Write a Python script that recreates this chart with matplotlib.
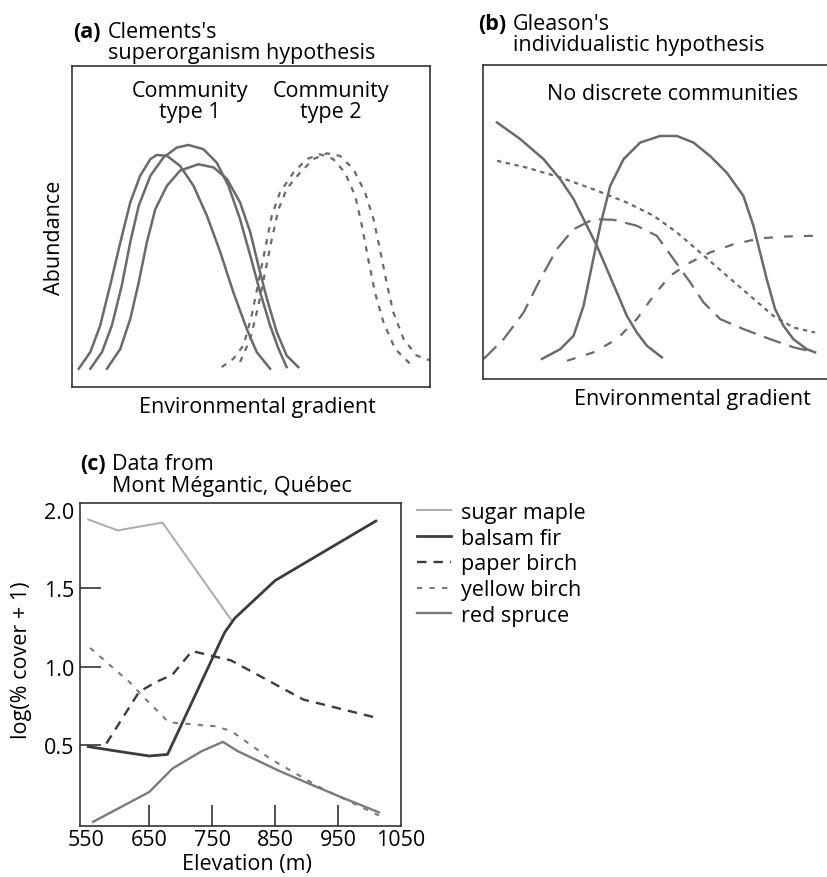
import matplotlib
matplotlib.use("Agg")
import matplotlib.pyplot as plt

plt.rcParams['font.family'] = ['Open Sans', 'DejaVu Sans']

# ---- panel (a): conceptual curves, arbitrary units 0-100
a_solid1_x = [0.5, 3.8, 6.6, 9.4, 12.3, 15.1, 17.9, 20.8, 22.6, 25.5, 29.2, 33.0, 36.8, 40.6, 44.3, 48.1, 50.9, 54.7]
a_solid1_y = [5.7, 10.9, 19.2, 31.6, 45.1, 57.5, 65.8, 71.0, 72.3, 72.0, 68.9, 62.7, 53.4, 42.0, 29.5, 18.1, 10.9, 5.7]
a_solid2_x = [3.8, 7.1, 9.9, 12.7, 15.1, 17.5, 20.8, 24.5, 28.3, 31.6, 35.8, 39.6, 42.9, 46.2, 49.1, 51.9, 54.7, 57.1, 59.4]
a_solid2_y = [5.7, 10.9, 19.2, 31.6, 45.1, 56.5, 65.8, 71.5, 74.6, 75.4, 74.1, 69.9, 62.7, 52.3, 40.9, 29.5, 19.2, 11.9, 6.2]
a_solid3_x = [8.5, 12.3, 15.1, 17.5, 19.8, 22.2, 25.5, 29.2, 34.4, 38.7, 42.5, 46.2, 49.1, 51.4, 53.8, 56.6, 59.4, 62.7]
a_solid3_y = [5.7, 11.9, 21.2, 32.6, 45.1, 55.4, 62.7, 67.4, 69.4, 68.4, 64.8, 57.5, 48.2, 37.8, 27.5, 17.1, 9.8, 6.2]
a_dash1_x = [41.0, 44.3, 47.2, 49.5, 51.4, 53.3, 55.2, 57.5, 61.3, 65.1, 68.9, 72.6, 75.9, 78.8, 80.7, 82.5, 84.4, 86.8, 90.1, 94.3]
a_dash1_y = [6.2, 8.8, 13.0, 22.3, 32.6, 43.0, 53.4, 60.6, 66.8, 71.0, 72.5, 71.0, 66.8, 59.6, 50.3, 39.9, 29.5, 20.2, 11.9, 7.3]
a_dash2_x = [46.2, 49.1, 51.4, 53.3, 55.2, 57.1, 59.4, 63.2, 67.0, 70.8, 74.5, 78.3, 81.6, 84.0, 85.8, 87.7, 89.6, 92.5, 96.2, 100]
a_dash2_y = [7.8, 15.0, 25.4, 35.8, 46.1, 55.4, 61.7, 66.8, 71.0, 72.8, 72.0, 67.9, 60.6, 52.3, 43.0, 32.6, 23.3, 15.0, 9.8, 8.3]

# ---- panel (b): conceptual curves, arbitrary units 0-100
b_solid1_x = [4.2, 11.2, 18.2, 23.2, 27.2, 31.2, 34.2, 37.2, 40.2, 43.2, 46.2, 49.2, 53.7]
b_solid1_y = [81.7, 76.4, 70.0, 63.6, 57.3, 48.8, 42.4, 35.0, 27.6, 20.1, 14.8, 10.6, 6.9]
b_solid2_x = [17.7, 23.2, 27.2, 30.2, 32.7, 35.2, 38.2, 42.2, 47.2, 53.2, 58.2, 63.2, 68.2, 73.2, 78.2, 81.2, 83.2, 85.2, 87.7, 90.2, 93.2, 97.2, 99.7]
b_solid2_y = [6.4, 9.5, 13.8, 23.3, 36.1, 48.8, 61.5, 70.0, 75.3, 77.4, 77.4, 75.3, 71.0, 65.7, 58.3, 48.8, 40.3, 31.8, 22.3, 17.0, 12.7, 9.5, 8.5]
b_short_x = [4.2, 13.2, 23.2, 33.2, 43.2, 51.2, 58.2, 65.2, 73.2, 80.2, 87.2, 93.2, 99.7]
b_short_y = [69.5, 67.3, 64.2, 60.4, 56.2, 52.0, 46.7, 40.3, 32.9, 26.5, 20.1, 16.4, 14.8]
b_long_x = [0.2, 6.2, 12.2, 17.2, 22.2, 27.2, 33.2, 39.2, 46.2, 52.2, 57.2, 62.2, 66.2, 71.2, 78.2, 86.2, 93.2, 99.7]
b_long_y = [6.4, 12.7, 21.2, 31.8, 41.4, 47.7, 50.9, 50.7, 48.8, 45.6, 38.2, 30.8, 24.4, 19.1, 15.9, 12.7, 10.1, 8.5]
b_mid_x = [25.2, 33.2, 40.2, 46.2, 51.2, 56.2, 62.2, 68.2, 75.2, 83.2, 91.2, 99.2]
b_mid_y = [5.8, 8.5, 12.7, 19.1, 26.5, 32.9, 37.1, 40.3, 42.9, 44.8, 45.4, 45.6]

# ---- panel (c): Mont Megantic data
sugar_maple_elev = [553, 600, 671, 780]
sugar_maple = [1.94, 1.87, 1.92, 1.30]
balsam_fir_elev = [553, 600, 650, 679, 700, 750, 770, 786, 850, 1010]
balsam_fir = [0.49, 0.46, 0.43, 0.44, 0.62, 1.05, 1.22, 1.31, 1.55, 1.93]
paper_birch_elev = [582, 634, 660, 687, 718, 780, 895, 1015]
paper_birch = [0.51, 0.84, 0.90, 0.95, 1.10, 1.04, 0.79, 0.67]
yellow_birch_elev = [556, 619, 640, 681, 754, 780, 843, 921, 1015]
yellow_birch = [1.12, 0.90, 0.81, 0.645, 0.62, 0.59, 0.41, 0.23, 0.05]
red_spruce_elev = [561, 650, 687, 733, 767, 791, 859, 947, 1015]
red_spruce = [0.01, 0.20, 0.35, 0.46, 0.52, 0.46, 0.33, 0.18, 0.07]

W, H = 827, 878
fig = plt.figure(figsize=(W / 100, H / 100), dpi=100)

def box(x0, y0, x1, y1):
    return [x0 / W, 1 - y1 / H, (x1 - x0) / W, (y1 - y0) / H]

def label(x, y, s, **kw):
    fig.text(x / W, 1 - y / H, s, fontsize=fs, va='center', **kw)

fs = 15.5
grey = '#6a6a6a'

# panel (a)
ax1 = fig.add_axes(box(72, 67, 430, 388))
for xs, ys in ((a_solid1_x, a_solid1_y), (a_solid2_x, a_solid2_y), (a_solid3_x, a_solid3_y)):
    ax1.plot(xs, ys, color=grey, lw=1.8, solid_joinstyle='round')
ax1.plot(a_dash1_x, a_dash1_y, color=grey, lw=1.6, dashes=(2.5, 3))
ax1.plot(a_dash2_x, a_dash2_y, color=grey, lw=1.6, dashes=(2.5, 3))
ax1.set_xlim(-1.4, 100)
ax1.set_ylim(0, 100)
ax1.set_xticks([])
ax1.set_yticks([])
ax1.text(32, 89, 'Community\ntype 1', ha='center', va='center', fontsize=fs, linespacing=1.0)
ax1.text(72, 89, 'Community\ntype 2', ha='center', va='center', fontsize=fs, linespacing=1.0)
label(55, 238, 'Abundance', ha='center', rotation=90)
label(257, 408, 'Environmental gradient', ha='center')
label(73, 32, '(a)', fontweight='bold')
label(108, 32, "Clements's")
label(108, 53, 'superorganism hypothesis')

# panel (b)
ax2 = fig.add_axes(box(483, 66, 836, 380))
ax2.plot(b_solid1_x, b_solid1_y, color=grey, lw=1.8, solid_joinstyle='round')
ax2.plot(b_solid2_x, b_solid2_y, color=grey, lw=1.8, solid_joinstyle='round')
ax2.plot(b_short_x, b_short_y, color=grey, lw=1.6, dashes=(2, 2))
ax2.plot(b_long_x, b_long_y, color=grey, lw=1.6, dashes=(8, 4))
ax2.plot(b_mid_x, b_mid_y, color=grey, lw=1.6, dashes=(4, 5))
ax2.set_xlim(0, 106)
ax2.set_ylim(0, 100)
ax2.set_xticks([])
ax2.set_yticks([])
ax2.text(57, 91, 'No discrete communities', ha='center', va='center', fontsize=fs)
label(692, 400, 'Environmental gradient', ha='center')
label(478, 25, '(b)', fontweight='bold')
label(513, 25, "Gleason's")
label(513, 45, 'individualistic hypothesis')

# panel (c)
ax3 = fig.add_axes(box(80, 504, 401, 827))
ax3.plot(sugar_maple_elev, sugar_maple, color='#ababab', lw=1.4, label='sugar maple')
ax3.plot(balsam_fir_elev, balsam_fir, color='#3c3c3c', lw=2.0, label='balsam fir')
ax3.plot(paper_birch_elev, paper_birch, color='#3c3c3c', lw=1.7, dashes=(4, 3), label='paper birch')
ax3.plot(yellow_birch_elev, yellow_birch, color='#7a7a7a', lw=1.5, dashes=(2.5, 3.5), label='yellow birch')
ax3.plot(red_spruce_elev, red_spruce, color='#7a7a7a', lw=1.7, label='red spruce')
ax3.set_xlim(540, 1042)
ax3.set_ylim(-0.017, 2.045)
ax3.set_xticks([550, 650, 750, 850, 950, 1050])
ax3.set_yticks([0.5, 1.0, 1.5, 2.0])
ax3.set_yticklabels(['0.5', '1.0', '1.5', '2.0'])
ax3.tick_params(direction='in', length=15, width=1.2, labelsize=fs, color='#333333')
ax3.tick_params(axis='x', pad=2)
ax3.tick_params(axis='y', pad=4)
for t in (ax3.xaxis.get_major_ticks()[0], ax3.xaxis.get_major_ticks()[-1], ax3.yaxis.get_major_ticks()[-1]):
    t.tick1line.set_visible(False)
label(247, 865, 'Elevation (m)', ha='center')
label(22, 660, 'log(% cover + 1)', ha='center', rotation=90)
ax3.legend(loc='upper left', bbox_to_anchor=(417 / W, 1 - 503 / H), bbox_transform=fig.transFigure,
           frameon=False, fontsize=fs, handlelength=1.6, handletextpad=0.45, labelspacing=0.22,
           borderaxespad=0, borderpad=0)
label(80, 465, '(c)', fontweight='bold')
label(112, 465, 'Data from')
label(112, 487, 'Mont Mégantic, Québec')

for ax in (ax1, ax2, ax3):
    for s in ax.spines.values():
        s.set_linewidth(1.2)
        s.set_color('#333333')

fig.savefig('out.png', dpi=100)
plt.close(fig)
